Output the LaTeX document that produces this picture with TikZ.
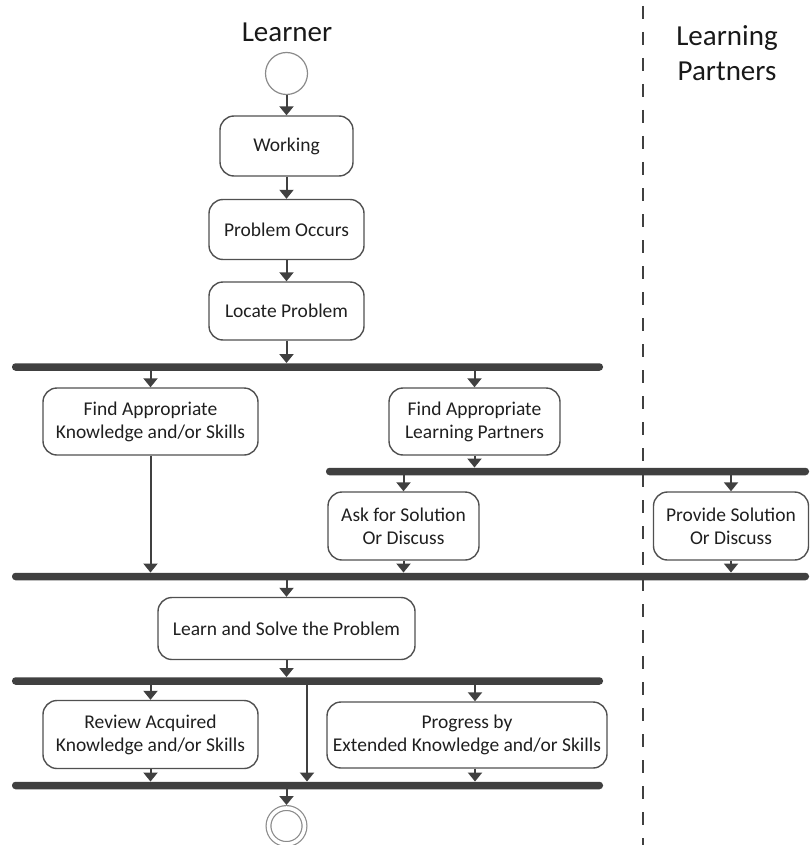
\documentclass[tikz,border=0pt]{standalone}
\usepackage{fontspec}
\setmainfont{Carlito}
\usepackage{xcolor}
\usetikzlibrary{
    arrows.meta,
    positioning
}

\definecolor{linegray}{HTML}{404040}
\definecolor{boxgray}{HTML}{505050}
\definecolor{circgray}{HTML}{8A8A8A}

\begin{document}
\begin{tikzpicture}[
    x=1pt, y=-1pt,
    act/.style={
        rectangle,
        rounded corners=14pt,
        draw=boxgray,
        line width=1.4pt,
        align=center,
        font=\fontsize{19.5}{23}\selectfont,
        text=black!88,
        inner sep=2pt
    },
    bar/.style={
        rectangle,
        rounded corners=3.5pt,
        fill=linegray,
        inner sep=0pt,
        minimum height=7.5pt
    },
    arrow/.style={
        -{Triangle[length=9pt,width=14pt]},
        line width=2pt,
        draw=linegray
    },
    lane/.style={
        font=\fontsize{29}{35}\selectfont,
        align=center,
        text=black!90,
        inner sep=0pt
    },
    initial/.style={
        circle,
        draw=circgray,
        line width=1.2pt,
        minimum size=42pt,
        inner sep=0pt
    },
    final/.style={
        circle,
        draw=circgray,
        line width=1.2pt,
        double=white,
        double distance=3.6pt,
        minimum size=36pt,
        inner sep=0pt,
        outer sep=3pt
    },
    lanesep/.style={
        draw=linegray,
        line width=2pt,
        dash pattern=on 13pt off 13pt
    }
]

\useasboundingbox (0,0) rectangle (809,845);

% =========================================================
% Swimlanes
% =========================================================
\node[lane, anchor=base] (learner) at (287,42) {Learner};
\node[lane] (partners) at (727,53) {Learning\\Partners};

\coordinate (septop) at (643,6);
\coordinate (sepbot) at (643,845);
\draw[lanesep] (septop) -- (sepbot);

% =========================================================
% Sequential steps
% =========================================================
\node[initial] (start) at (286.5,73.5) {};

\node[act, minimum width=133pt, minimum height=60pt] (work) at (286.5,146)
{Working};

\node[act, minimum width=155pt, minimum height=60pt] (occur) at (286.5,229.5)
{Problem Occurs};

\node[act, minimum width=155pt, minimum height=58pt] (locate) at (286.5,311)
{Locate Problem};

% =========================================================
% Fork / join bars
% =========================================================
\node[bar, minimum width=591pt] (bar1) at (307.5,367) {};
\node[bar, minimum width=483pt] (bar2) at (567.5,471.5) {};
\node[bar, minimum width=797pt] (bar3) at (410.5,576.5) {};
\node[bar, minimum width=591pt] (bar4) at (307.5,681) {};
\node[bar, minimum width=591pt] (bar5) at (307.5,785.5) {};

% =========================================================
% Parallel activities
% =========================================================
\node[act, minimum width=215pt, minimum height=67pt] (know) at (150.5,421.5)
{Find Appropriate\\Knowledge and/or Skills};

\node[act, minimum width=171pt, minimum height=67pt] (seek) at (474.5,421.5)
{Find Appropriate\\Learning Partners};

\node[act, minimum width=151pt, minimum height=68pt] (ask) at (403.5,526)
{Ask for Solution\\Or Discuss};

\node[act, minimum width=155pt, minimum height=68pt] (provide) at (731,526)
{Provide Solution\\Or Discuss};

\node[act, minimum width=257pt, minimum height=62pt] (learn) at (286.5,628.5)
{Learn and Solve the Problem};

\node[act, minimum width=215pt, minimum height=68pt] (review) at (150.5,734.5)
{Review Acquired\\Knowledge and/or Skills};

\node[act, minimum width=280pt, minimum height=66pt] (progress) at (467,735)
{Progress by\\Extended Knowledge and/or Skills};

\node[final] (finish) at (286.5,826) {};

\coordinate (skip) at (307,681);

% =========================================================
% Control flow
% =========================================================
\draw[arrow] (start) -- (work);
\draw[arrow] (work) -- (occur);
\draw[arrow] (occur) -- (locate);
\draw[arrow] (locate) -- (locate |- bar1.north);

\draw[arrow] (bar1.south -| know.north) -- (know);
\draw[arrow] (bar1.south -| seek.north) -- (seek);
\draw[arrow] (seek) -- (seek |- bar2.north);

\draw[arrow] (bar2.south -| ask.north) -- (ask);
\draw[arrow] (bar2.south -| provide.north) -- (provide);

\draw[arrow] (know) -- (know |- bar3.north);
\draw[arrow] (ask) -- (ask |- bar3.north);
\draw[arrow] (provide) -- (provide |- bar3.north);

\draw[arrow] (bar3.south -| learn.north) -- (learn);
\draw[arrow] (learn) -- (learn |- bar4.north);

\draw[arrow] (bar4.south -| review.north) -- (review);
\draw[arrow] ([xshift=8pt]bar4.south -| progress.north) -- ([xshift=8pt]progress.north);
\draw[arrow] (skip) -- (skip |- bar5.north);

\draw[arrow] (review) -- (review |- bar5.north);
\draw[arrow] ([xshift=8pt]progress.south) -- ([xshift=8pt]progress.south |- bar5.north);

\draw[arrow] (bar5.south -| finish.north) -- (finish);

\end{tikzpicture}
\end{document}
